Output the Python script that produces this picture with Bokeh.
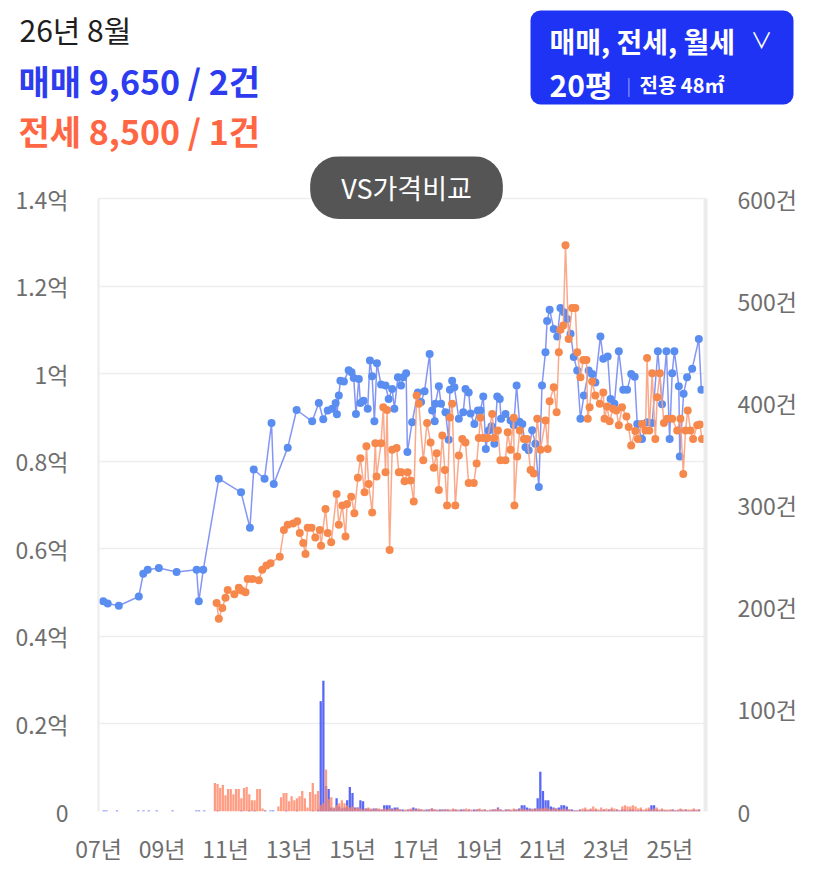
from bokeh.plotting import figure
from bokeh.layouts import column
from bokeh.models import Range1d, LinearAxis, FixedTicker, Label, BoxAnnotation
from bokeh.embed import file_html
from bokeh.resources import INLINE

# ---------------- data ----------------
# 매매 (sale) price points: decimal year, price in 억
sale_t = [2007.15, 2007.29, 2007.64, 2008.27, 2008.41, 2008.55, 2008.90, 2009.46, 2010.09, 2010.16,
          2010.30, 2010.79, 2011.49, 2011.77, 2011.89, 2012.23, 2012.45, 2012.52, 2012.96, 2013.24,
          2013.73, 2013.94, 2014.08, 2014.22, 2014.36, 2014.47, 2014.51, 2014.57, 2014.62, 2014.73,
          2014.88, 2014.97, 2015.04, 2015.11, 2015.20, 2015.25, 2015.35, 2015.48, 2015.55, 2015.62,
          2015.69, 2015.77, 2015.90, 2016.04, 2016.14, 2016.25, 2016.32, 2016.43, 2016.53, 2016.60,
          2016.69, 2016.73, 2016.88, 2017.06, 2017.16, 2017.27, 2017.43, 2017.51, 2017.59, 2017.61,
          2017.72, 2017.79, 2017.93, 2018.03, 2018.07, 2018.14, 2018.21, 2018.35, 2018.49, 2018.56,
          2018.66, 2018.72, 2018.84, 2018.95, 2019.03, 2019.12, 2019.20, 2019.29, 2019.38, 2019.47,
          2019.56, 2019.64, 2019.68, 2019.82, 2019.98, 2020.08, 2020.17, 2020.26, 2020.35, 2020.45,
          2020.55, 2020.66, 2020.76, 2020.87, 2020.97, 2021.08, 2021.13, 2021.21, 2021.34, 2021.45,
          2021.55, 2021.66, 2021.76, 2021.87, 2021.97, 2022.08, 2022.18, 2022.29, 2022.44, 2022.55,
          2022.65, 2022.81, 2022.90, 2023.04, 2023.13, 2023.25, 2023.39, 2023.53, 2023.65, 2023.78,
          2023.89, 2023.97, 2024.12, 2024.28, 2024.44, 2024.62, 2024.75, 2024.89, 2024.99, 2025.07,
          2025.14, 2025.28, 2025.31, 2025.43, 2025.54, 2025.70, 2025.91, 2025.99]
sale_p = [0.480, 0.475, 0.470, 0.491, 0.543, 0.552, 0.556, 0.547, 0.552, 0.480,
          0.552, 0.760, 0.729, 0.648, 0.781, 0.760, 0.887, 0.748, 0.831, 0.917,
          0.891, 0.933, 0.896, 0.916, 0.920, 0.933, 0.907, 0.950, 0.984, 0.982,
          1.008, 1.003, 0.990, 0.908, 0.988, 0.933, 0.938, 0.920, 1.030, 0.994,
          0.891, 1.024, 0.975, 0.973, 0.942, 0.965, 0.920, 0.992, 0.973, 0.992,
          1.001, 0.821, 0.889, 0.957, 0.935, 0.960, 1.045, 0.916, 0.891, 0.931,
          0.971, 0.931, 0.912, 0.849, 0.963, 0.984, 0.969, 0.897, 0.912, 0.965,
          0.957, 0.909, 0.885, 0.916, 0.916, 0.948, 0.828, 0.870, 0.880, 0.840,
          0.948, 0.942, 0.897, 0.908, 0.893, 0.882, 0.973, 0.890, 0.885, 0.832,
          0.825, 0.871, 0.840, 0.741, 0.973, 1.049, 1.120, 1.146, 1.102, 1.085,
          1.150, 1.140, 1.125, 1.091, 1.038, 1.007, 0.897, 0.950, 1.007, 0.999,
          0.980, 1.085, 1.034, 1.039, 0.942, 0.931, 1.051, 0.963, 0.963, 0.999,
          0.993, 0.885, 0.851, 0.889, 0.887, 1.051, 0.930, 1.051, 0.851, 1.001,
          1.051, 0.971, 0.811, 0.954, 0.992, 1.011, 1.079, 0.963]

# 전세 (jeonse) price points
jeonse_t = [2010.72, 2010.79, 2010.90, 2011.00, 2011.07, 2011.28, 2011.42, 2011.50, 2011.63, 2011.70,
            2011.85, 2012.05, 2012.16, 2012.29, 2012.42, 2012.71, 2012.84, 2012.96, 2013.13, 2013.26,
            2013.34, 2013.45, 2013.52, 2013.59, 2013.71, 2013.83, 2013.97, 2014.01, 2014.15, 2014.22,
            2014.33, 2014.50, 2014.57, 2014.68, 2014.78, 2014.83, 2014.96, 2015.06, 2015.17, 2015.25,
            2015.38, 2015.44, 2015.51, 2015.62, 2015.72, 2015.76, 2015.90, 2015.97, 2016.04, 2016.09,
            2016.17, 2016.25, 2016.39, 2016.46, 2016.54, 2016.64, 2016.74, 2016.83, 2016.93, 2017.02,
            2017.09, 2017.23, 2017.35, 2017.46, 2017.56, 2017.65, 2017.72, 2017.83, 2017.91, 2017.98,
            2018.07, 2018.14, 2018.24, 2018.35, 2018.46, 2018.56, 2018.66, 2018.82, 2018.91, 2018.98,
            2019.03, 2019.12, 2019.26, 2019.40, 2019.47, 2019.58, 2019.66, 2019.82, 2019.89, 2019.98,
            2020.08, 2020.10, 2020.19, 2020.27, 2020.40, 2020.50, 2020.61, 2020.71, 2020.82, 2020.92,
            2021.08, 2021.15, 2021.21, 2021.34, 2021.43, 2021.50, 2021.55, 2021.64, 2021.71, 2021.81,
            2021.92, 2022.02, 2022.08, 2022.18, 2022.27, 2022.37, 2022.41, 2022.47, 2022.55, 2022.65,
            2022.79, 2022.90, 2022.94, 2023.02, 2023.10, 2023.21, 2023.31, 2023.39, 2023.49, 2023.63,
            2023.70, 2023.78, 2023.91, 2023.99, 2024.12, 2024.23, 2024.28, 2024.35, 2024.44, 2024.54,
            2024.60, 2024.68, 2024.81, 2024.91, 2025.07, 2025.23, 2025.33, 2025.42, 2025.49, 2025.56,
            2025.65, 2025.73, 2025.86, 2025.94, 2026.01]
jeonse_p = [0.476, 0.440, 0.465, 0.488, 0.506, 0.496, 0.511, 0.505, 0.501, 0.531,
            0.531, 0.528, 0.552, 0.562, 0.567, 0.582, 0.643, 0.655, 0.658, 0.663,
            0.636, 0.613, 0.588, 0.648, 0.648, 0.626, 0.643, 0.607, 0.691, 0.636,
            0.615, 0.725, 0.655, 0.699, 0.628, 0.702, 0.719, 0.681, 0.762, 0.807,
            0.729, 0.834, 0.748, 0.683, 0.841, 0.765, 0.841, 0.923, 0.775, 0.917,
            0.597, 0.826, 0.830, 0.775, 0.775, 0.754, 0.775, 0.756, 0.708, 0.950,
            0.931, 0.802, 0.887, 0.843, 0.785, 0.818, 0.734, 0.859, 0.780, 0.699,
            0.900, 0.931, 0.699, 0.813, 0.851, 0.843, 0.750, 0.750, 0.795, 0.853,
            0.899, 0.853, 0.853, 0.908, 0.853, 0.870, 0.802, 0.802, 0.866, 0.826,
            0.899, 0.699, 0.811, 0.870, 0.851, 0.851, 0.780, 0.772, 0.897, 0.826,
            0.893, 0.828, 0.937, 0.969, 0.912, 1.049, 1.100, 1.110, 1.293, 1.079,
            1.150, 1.150, 1.049, 0.992, 1.031, 1.031, 0.897, 0.923, 0.982, 0.950,
            0.931, 0.957, 0.897, 0.925, 0.891, 0.920, 0.916, 0.882, 0.923, 0.902,
            0.878, 0.836, 0.869, 0.851, 0.885, 0.870, 1.036, 0.870, 1.001, 0.851,
            0.946, 1.001, 0.887, 0.897, 0.897, 0.870, 0.897, 0.771, 0.870, 0.916,
            0.870, 0.851, 0.882, 0.884, 0.851]

# monthly transaction counts (건), one row per year starting 2007-01
vol_start_year = 2007
sale_vol = [
    0, 0, 1, 1, 0, 0, 0, 1, 0, 0, 0, 0,          # 2007
    0, 0, 0, 1, 0, 1, 0, 1, 0, 0, 1, 0,          # 2008
    0, 0, 0, 0, 1, 0, 0, 0, 0, 0, 0, 0,          # 2009
    0, 1, 1, 0, 1, 0, 0, 0, 0, 1, 0, 0,          # 2010
    0, 0, 0, 0, 0, 0, 1, 0, 0, 1, 0, 1,          # 2011
    0, 0, 0, 1, 0, 1, 1, 0, 0, 0, 0, 1,          # 2012
    0, 0, 0, 1, 0, 0, 0, 0, 0, 1, 0, 2,          # 2013
    108, 128, 25, 22, 4, 3, 13, 5, 3, 4, 11, 24,  # 2014
    18, 4, 4, 11, 10, 3, 3, 2, 3, 3, 2, 2,       # 2015
    6, 6, 6, 3, 4, 4, 2, 2, 1, 2, 2, 4,          # 2016
    3, 2, 2, 1, 2, 2, 3, 2, 1, 2, 2, 2,          # 2017
    2, 1, 2, 2, 1, 2, 2, 1, 2, 1, 2, 2,          # 2018
    2, 1, 2, 1, 1, 2, 2, 4, 2, 1, 2, 2,          # 2019
    1, 2, 2, 3, 6, 6, 4, 3, 2, 3, 13, 39,        # 2020
    20, 11, 11, 5, 4, 3, 4, 6, 6, 5, 2, 2,       # 2021
    1, 1, 2, 1, 2, 1, 2, 1, 2, 1, 1, 2,          # 2022
    1, 2, 2, 1, 2, 1, 2, 2, 1, 2, 2, 1,          # 2023
    1, 2, 1, 1, 2, 6, 6, 2, 1, 2, 1, 1,          # 2024
    1, 2, 1, 1, 2, 1, 2, 1, 1, 2, 1, 2,          # 2025
]
jeonse_vol = [
    0, 0, 0, 0, 0, 0, 0, 0, 0, 0, 0, 0,          # 2007
    0, 0, 0, 0, 0, 0, 0, 0, 0, 0, 0, 0,          # 2008
    0, 0, 0, 0, 0, 0, 0, 0, 0, 0, 0, 0,          # 2009
    0, 0, 0, 0, 0, 0, 0, 0, 28, 27, 23, 26,      # 2010
    16, 22, 22, 17, 22, 22, 13, 23, 24, 17, 11, 11,  # 2011
    22, 22, 3, 1, 0, 0, 0, 0, 5, 14, 18, 18,     # 2012
    10, 15, 11, 13, 15, 20, 13, 4, 19, 28, 17, 20,  # 2013
    6, 8, 41, 12, 14, 4, 6, 8, 11, 8, 6, 4,      # 2014
    5, 3, 4, 3, 2, 3, 4, 3, 2, 3, 3, 2,          # 2015
    3, 2, 3, 2, 2, 3, 2, 1, 2, 2, 3, 2,          # 2016
    2, 3, 2, 2, 1, 2, 3, 2, 2, 1, 2, 2,          # 2017
    2, 2, 3, 2, 2, 1, 2, 3, 2, 2, 1, 2,          # 2018
    3, 2, 2, 1, 2, 2, 2, 3, 2, 1, 2, 2,          # 2019
    2, 3, 2, 2, 3, 2, 2, 2, 3, 2, 3, 3,          # 2020
    3, 4, 3, 2, 3, 3, 2, 2, 3, 2, 2, 1,          # 2021
    1, 1, 2, 3, 4, 2, 3, 5, 3, 2, 4, 2,          # 2022
    3, 2, 4, 3, 2, 1, 5, 6, 5, 5, 6, 5,          # 2023
    3, 4, 2, 3, 4, 2, 3, 4, 2, 3, 2, 2,          # 2024
    2, 2, 1, 2, 3, 2, 2, 2, 2, 3, 2, 2,          # 2025
]

x_ticks = [2007, 2009, 2011, 2013, 2015, 2017, 2019, 2021, 2023, 2025]
x_tick_labels = ["07년", "09년", "11년", "13년", "15년", "17년", "19년", "21년", "23년", "25년"]
price_ticks = [0, 0.2, 0.4, 0.6, 0.8, 1.0, 1.2, 1.4]
price_tick_labels = ["0", "0.2억", "0.4억", "0.6억", "0.8억", "1억", "1.2억", "1.4억"]
count_ticks = [0, 100, 200, 300, 400, 500, 600]
count_tick_labels = ["0", "100건", "200건", "300건", "400건", "500건", "600건"]

header_date = "26년 8월"
header_sale = "매매 9,650 / 2건"
header_jeonse = "전세 8,500 / 1건"
filter_types = "매매, 전세, 월세"
filter_size = "20평"
filter_area = "전용 48㎡"
compare_btn = "VS가격비교"

FONT = "Noto Sans CJK KR"
W = 827
HDR_H = 156

# ---------------- header figure (frame = whole figure) ----------------
hdr = figure(width=W, height=HDR_H, output_backend="svg", toolbar_location=None,
             x_range=Range1d(0, W), y_range=Range1d(0, HDR_H),
             x_axis_location=None, y_axis_location=None, min_border=0,
             background_fill_color="white", border_fill_color="white")
hdr.frame_align = False
hdr.outline_line_color = None
hdr.grid.visible = False


def hlab(text, x, y, size, color, style="normal", align="left"):
    hdr.add_layout(Label(text=text, x=x, y=HDR_H - y, text_font=FONT, text_font_size=size,
                         text_color=color, text_font_style=style, text_align=align,
                         text_baseline="middle"))


hlab(header_date, 19, 28, "30px", "#1e1e1e")
hlab(header_sale, 18, 80, "34px", "#2e3cf0", "bold")
hlab(header_jeonse, 18, 130, "34px", "#ff6744", "bold")

hdr.add_layout(BoxAnnotation(left=530, right=793, bottom=HDR_H - 104, top=HDR_H - 10,
                             fill_color="#1f33f5", fill_alpha=1.0, line_color=None,
                             border_radius=10))
hlab(filter_types, 549, 40, "28px", "white", "bold")
hlab("∨", 750, 37, "22px", "white")
hlab(filter_size, 549, 83, "30px", "white", "bold")
hlab("|", 626, 84, "17px", "#8f99ff")
hlab(filter_area, 639, 84, "20px", "white", "bold")

# ---------------- main chart ----------------
# frame: left x=98, right x=705, top at figure top, value 0 at 613px below the 1.4 line
FRAME_PX = 811 - HDR_H
Y_TOP = 1.4 * FRAME_PX / 613
C_TOP = 600 * FRAME_PX / 613
p = figure(width=W, height=871 - HDR_H, output_backend="svg", toolbar_location=None,
           x_range=Range1d(2007.0, 2026.12), y_range=Range1d(0, Y_TOP),
           min_border_left=98, min_border_right=122, min_border_top=0, min_border_bottom=60,
           background_fill_color="white", border_fill_color="white")
p.frame_align = False
p.outline_line_color = None
p.extra_y_ranges = {"cnt": Range1d(0, C_TOP)}

p.xgrid.visible = False
p.ygrid.grid_line_color = "#ededed"
p.ygrid.grid_line_width = 1.6
p.ygrid.ticker = FixedTicker(ticks=price_ticks)

AX_FONT_SIZE = "23px"
AX_COLOR = "#6e6e6e"

xa = p.xaxis[0]
xa.ticker = FixedTicker(ticks=x_ticks)
xa.major_label_overrides = {t: l for t, l in zip(x_ticks, x_tick_labels)}
xa.axis_line_color = None
xa.major_tick_line_color = None
xa.minor_tick_line_color = None
xa.major_label_standoff = 13
xa.major_label_text_font = FONT
xa.major_label_text_font_size = AX_FONT_SIZE
xa.major_label_text_color = AX_COLOR

ya = p.yaxis[0]
ya.ticker = FixedTicker(ticks=price_ticks)
ya.major_label_overrides = {t: l for t, l in zip(price_ticks, price_tick_labels)}
ya.bounds = (0, 1.4)
ya.axis_line_color = "#ececec"
ya.axis_line_width = 2
ya.major_tick_line_color = None
ya.minor_tick_line_color = None
ya.major_label_standoff = 24
ya.major_label_text_font = FONT
ya.major_label_text_font_size = AX_FONT_SIZE
ya.major_label_text_color = AX_COLOR

ra = LinearAxis(y_range_name="cnt", ticker=FixedTicker(ticks=count_ticks))
ra.major_label_overrides = {t: l for t, l in zip(count_ticks, count_tick_labels)}
ra.bounds = (0, 600)
ra.axis_line_color = "#ececec"
ra.axis_line_width = 4
ra.major_tick_line_color = None
ra.minor_tick_line_color = None
ra.major_label_standoff = 26
ra.major_label_text_font = FONT
ra.major_label_text_font_size = AX_FONT_SIZE
ra.major_label_text_color = AX_COLOR
p.add_layout(ra, "right")

# volume bars
months = [vol_start_year + i / 12 for i in range(len(sale_vol))]
p.vbar(x=months, top=sale_vol, width=0.072, bottom=0, y_range_name="cnt",
       fill_color="#4f5ff6", line_color=None, fill_alpha=0.95)
months_j = [vol_start_year + i / 12 for i in range(len(jeonse_vol))]
p.vbar(x=months_j, top=jeonse_vol, width=0.072, bottom=0, y_range_name="cnt",
       fill_color="#ff8465", line_color=None, fill_alpha=0.8)

# price lines
p.line(sale_t, sale_p, line_color="#6f84f2", line_width=1.5, line_alpha=0.85)
p.scatter(sale_t, sale_p, size=8, fill_color="#5a8df0", line_color=None)
p.line(jeonse_t, jeonse_p, line_color="#f9a07e", line_width=1.5, line_alpha=0.9)
p.scatter(jeonse_t, jeonse_p, size=8, fill_color="#f6884c", line_color=None)

# compare pill (frame-relative screen coords: frame left = page x 98, frame bottom = page y 811)
p.add_layout(Label(text=compare_btn, x=406 - 98, y=811 - 187, x_units="screen", y_units="screen",
                   text_font=FONT, text_font_size="27px", text_color="white",
                   text_align="center", text_baseline="middle",
                   background_fill_color="#555555", background_fill_alpha=1.0,
                   border_radius=29, padding=dict(left=31, right=31, top=12, bottom=12)))

layout = column(hdr, p, spacing=0)
open("out.html", "w").write(file_html(layout, INLINE))
